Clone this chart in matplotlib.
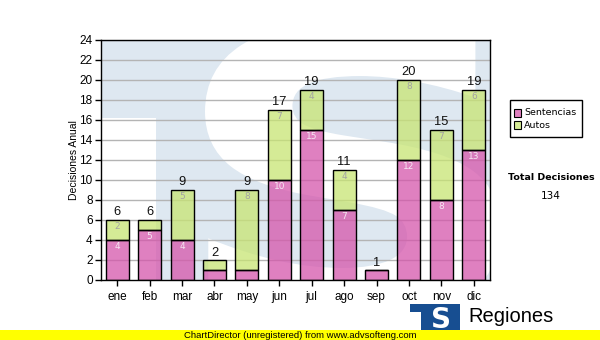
import matplotlib
matplotlib.use("Agg")
import matplotlib.pyplot as plt
from matplotlib.patches import Rectangle, PathPatch
from matplotlib.textpath import TextPath
from matplotlib.font_manager import FontProperties
from matplotlib.transforms import Affine2D

months = ["ene", "feb", "mar", "abr", "may", "jun", "jul", "ago", "sep", "oct", "nov", "dic"]
sentencias = [4, 5, 4, 1, 1, 10, 15, 7, 1, 12, 8, 13]
autos = [2, 1, 5, 1, 8, 7, 4, 4, 0, 8, 7, 6]
series_names = ["Sentencias", "Autos"]
y_ticks = list(range(0, 25, 2))

W, H = 600, 340
PINK = (213 / 255, 85 / 255, 171 / 255)
GREEN = (200 / 255, 229 / 255, 115 / 255)
ALPHA = 0.75
WM_BLUE = "#dee8f1"
SANS = "Liberation Sans"


def fx(px):
    return px / W


def fy(py):
    return 1 - py / H


fig = plt.figure(figsize=(W / 100, H / 100), dpi=100)
fig.patch.set_facecolor("white")

# plot area
x0, x1, ytop, ybot = 101, 490, 40, 280
ax = fig.add_axes([fx(x0), fy(ybot), fx(x1 - x0), (ybot - ytop) / H])
ax.set_xlim(-0.5, len(months) - 0.5)
ax.set_ylim(0, 24)
ax.set_facecolor(WM_BLUE)

# helpers: pixel -> data
cat_w = (x1 - x0) / len(months)


def dx(px):
    return (px - x0) / cat_w - 0.5


def dy(py):
    return (ybot - py) / 10.0


# watermark logo: white cut-out beside the T stem and a big white S
ax.add_patch(Rectangle((dx(x0) - 1, 0 - 2), dx(156) - dx(x0) + 1, dy(118) + 2,
                       facecolor="white", edgecolor="none", zorder=0))
sp = TextPath((0, 0), "S", size=100, prop=FontProperties(family="DejaVu Sans", weight="bold"))
ext = sp.get_extents()
sx0, sx1, sy_top, sy_bot = 205, 500, 22, 322
tr = (Affine2D().translate(-ext.x0, -ext.y0)
      .scale((dx(sx1) - dx(sx0)) / ext.width, (dy(sy_top) - dy(sy_bot)) / ext.height)
      .translate(dx(sx0), dy(sy_bot)))
ax.add_patch(PathPatch(tr.transform_path(sp), facecolor="white", edgecolor="none", zorder=0))

# grid
for t in y_ticks[1:]:
    ax.axhline(t, color="#b4b4b4", lw=1.0, zorder=1)

xs = list(range(len(months)))
bw = 0.71
ax.bar(xs, sentencias, width=bw, color=PINK, alpha=ALPHA, zorder=2)
ax.bar(xs, autos, width=bw, bottom=sentencias, color=GREEN, alpha=ALPHA, zorder=2)
ax.bar(xs, sentencias, width=bw, facecolor="none", edgecolor="black", lw=1.0, zorder=3)
ax.bar(xs, autos, width=bw, bottom=sentencias, facecolor="none", edgecolor="black", lw=1.0, zorder=3)

for i, (s, a) in enumerate(zip(sentencias, autos)):
    if s > 1:
        ax.text(i, s - 0.25, str(s), ha="center", va="top", fontsize=6.5,
                color="#f6e6f2", family="DejaVu Sans", zorder=4)
    if a > 1:
        ax.text(i, s + a - 0.25, str(a), ha="center", va="top", fontsize=6.5,
                color="#a3a3a3", family="DejaVu Sans", zorder=4)
    ax.text(i, s + a + 0.15, str(s + a), ha="center", va="bottom", fontsize=9.3,
            color="#111111", family=SANS, zorder=4)

ax.set_yticks(y_ticks)
ax.set_xticks(xs)
ax.set_xticklabels(months)
ax.tick_params(axis="both", direction="out", length=4, width=1, color="black",
               labelsize=8.5, pad=2)
for lab in ax.get_xticklabels() + ax.get_yticklabels():
    lab.set_family(SANS)
ax.tick_params(axis="x", pad=4)
for sp_ in ax.spines.values():
    sp_.set_color("black")
    sp_.set_linewidth(1.0)
    sp_.set_zorder(5)
ax.set_ylabel("Decisiones Anual", fontsize=7.5, family=SANS, labelpad=0)

# legend
fig.patches.append(Rectangle((fx(510), fy(137)), fx(72), 37 / H, transform=fig.transFigure,
                             facecolor="white", edgecolor="black", lw=1.0))
for k, (name, col) in enumerate(zip(series_names, [PINK, GREEN])):
    yc = 113 + 12 * k
    base = tuple(c * ALPHA + (1 - ALPHA) for c in col)
    fig.patches.append(Rectangle((fx(514), fy(yc + 3.5)), fx(7), 7 / H, transform=fig.transFigure,
                                 facecolor=base, edgecolor="black", lw=0.8))
    fig.text(fx(524), fy(yc), name, fontsize=6.8, family="DejaVu Sans", va="center", ha="left")

fig.text(fx(551), fy(178), "Total Decisiones", fontsize=6.8, family="DejaVu Sans",
         weight="bold", ha="center", va="center")
fig.text(fx(551), fy(196), str(sum(sentencias) + sum(autos)), fontsize=7.5,
         family="DejaVu Sans", ha="center", va="center")

# footer logo
fig.patches.append(Rectangle((fx(410), fy(334)), fx(50), 30 / H, transform=fig.transFigure,
                             facecolor="#174e91", edgecolor="none"))
fig.patches.append(Rectangle((fx(410), fy(334)), fx(11), 22 / H, transform=fig.transFigure,
                             facecolor="white", edgecolor="none"))
fig.text(fx(441), fy(320), "S", fontsize=20, family="DejaVu Sans", weight="bold",
         color="white", ha="center", va="center")
fig.text(fx(468), fy(316), "Regiones", fontsize=14.5, family=SANS, ha="left", va="center")

# footer banner
fig.patches.append(Rectangle((0, 0), 1, 10 / H, transform=fig.transFigure,
                             facecolor="#ffff00", edgecolor="none", zorder=10))
fig.text(fx(300), fy(335), "ChartDirector (unregistered) from www.advsofteng.com",
         fontsize=6.8, family=SANS, ha="center", va="center", zorder=11)

fig.savefig("out.png", dpi=100)
